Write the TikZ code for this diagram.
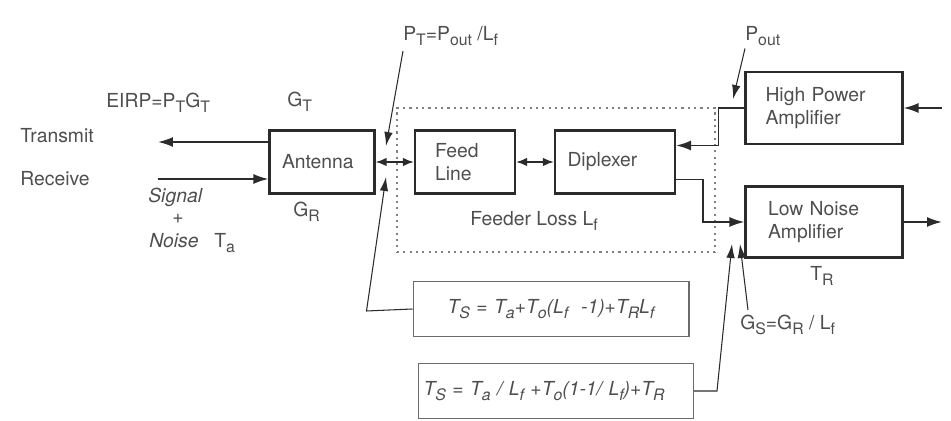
\documentclass[tikz,border=0pt]{standalone}
\usepackage{fontspec}
\setmainfont{TeX Gyre Heros}
\usetikzlibrary{positioning,arrows.meta}
\definecolor{ink}{HTML}{2B2B2B}
\definecolor{txt}{HTML}{4E4E4E}
\newcommand{\sub}[1]{\raisebox{-0.45ex}{\fontsize{9}{9}\selectfont #1}}

\begin{document}
\begin{tikzpicture}[x=0.02cm, y=-0.02cm,
  every node/.style={text=txt, font=\fontsize{11}{13}\selectfont},
  block/.style={draw=ink, line width=1.2pt, rectangle, minimum height=1.26cm, align=left, inner xsep=0.25cm},
  eqbox/.style={draw=ink!70, line width=0.6pt, rectangle, minimum height=1.1cm, inner xsep=0.1cm, font=\fontsize{11}{13}\selectfont\itshape},
  lbl/.style={anchor=base west, inner sep=0pt},
  loss/.style={draw=ink!60, dash pattern=on 1.2pt off 2.4pt, line width=0.8pt, minimum width=6.36cm, minimum height=2.88cm},
  rel/.style={-{Latex[length=0.3cm,width=0.2cm]}, draw=ink, line width=1pt},
  dbl/.style={{Latex[length=0.22cm,width=0.17cm]}-{Latex[length=0.22cm,width=0.17cm]}, draw=ink, line width=1pt},
  ptr/.style={-{Latex[length=0.28cm,width=0.17cm]}, draw=ink, line width=0.6pt}
]
\useasboundingbox (0,0) rectangle (951,421);

% feeder loss region
\node[loss] (lossbox) at (556,180) {};
\node[lbl] (losslbl) at (470,226) {Feeder Loss L\sub{f}};

% blocks
\node[block, text width=1.6cm] (ant) at (322,162) {Antenna};
\node[block, text width=1.2cm, inner xsep=0.4cm] (feed) at (465,162) {Feed\\Line};
\node[block, text width=1.9cm] (dipl) at (615,162) {Diplexer};
\node[block, text width=2.34cm, inner xsep=0.4cm, minimum height=1.44cm] (hpa) at (824,108) {High Power\\Amplifier};
\node[block, text width=2.24cm, inner xsep=0.45cm, minimum height=1.42cm] (lna) at (824,222) {Low Noise\\Amplifier};

% noise temperature formulas
\node[eqbox, text width=5.32cm, align=center] (tsfull) at (551,309) {T\sub{S} = T\sub{a}+T\sub{o}(L\sub{f}~~-1)+T\sub{R}L\sub{f}};
\node[eqbox, text width=5.3cm, align=left] (tsred) at (556,391) {T\sub{S} = T\sub{a} / L\sub{f} +T\sub{o}(1-1/ L\sub{f})+T\sub{R}};

% labels
\node[lbl] (eirp) at (106,108) {EIRP=P\sub{T}G\sub{T}};
\node[lbl] (gt) at (287,107) {G\sub{T}};
\node[lbl] (gr) at (293,217) {G\sub{R}};
\node[lbl] (txlbl) at (20,143) {Transmit};
\node[lbl] (rxlbl) at (20,186) {Receive};
\node[lbl] (siglbl) at (148,203) {\itshape Signal};
\node[lbl] (pluslbl) at (172,224) {+};
\node[lbl] (noiselbl) at (149,248) {\itshape Noise};
\node[lbl] (talbl) at (214,248) {T\sub{a}};
\node[lbl] (ptlbl) at (403,41) {P\sub{T}=P\sub{out} /L\sub{f}};
\node[lbl] (polbl) at (745,41) {P\sub{out}};
\node[lbl] (trlbl) at (810,281) {T\sub{R}};
\node[lbl] (gslbl) at (740,330) {G\sub{S}=G\sub{R} / L\sub{f}};

\coordinate (txend) at (158,142);
\coordinate (rxstart) at (158,179);
\coordinate (hpain) at (942,108);
\coordinate (lnaout) at (942,222);
\coordinate (ptat) at (386,146);
\coordinate (taat) at (386,177);
\coordinate (poat) at (733,99);
\coordinate (gsat) at (732,244);
\coordinate (grat) at (740,244);

% signal paths
\draw[rel] (ant.west |- txend) -- (txend);
\draw[rel] (rxstart) -- (ant.west |- rxstart);
\draw[dbl] (ant) -- (feed);
\draw[dbl] (feed) -- (dipl);
\draw[rel] (hpain) -- (hpa);
\draw[rel] (hpa.west) -- ++(-26,0) |- ([yshift=0.33cm]dipl.east);
\draw[rel] ([yshift=-0.35cm]dipl.east) -- ++(27,0) |- (lna.west);
\draw[rel] (lna) -- (lnaout);

% pointers
\draw[ptr] ([yshift=-0.2cm]ptlbl.base west) -- (ptat);
\draw[ptr] (tsfull.west) -- ++(-46,2) -- (taat);
\draw[ptr] ([yshift=-0.15cm]polbl.base west) -- (poat);
\draw[ptr] (tsred.east) -- ++(23,0) -- (gsat);
\draw[ptr] ([xshift=0.16cm,yshift=0.4cm]gslbl.base west) -- (grat);
\end{tikzpicture}
\end{document}
